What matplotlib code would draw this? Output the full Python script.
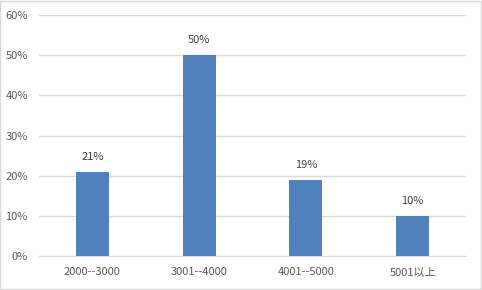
import matplotlib
matplotlib.use("Agg")
import matplotlib.pyplot as plt

plt.rcParams['font.family'] = ['Noto Sans CJK SC', 'DejaVu Sans']

categorias = ["2000--3000", "3001--4000", "4001--5000", "5001以上"]
valores = [21, 50, 19, 10]
etiquetas = ["21%", "50%", "19%", "10%"]
yticks = [0, 10, 20, 30, 40, 50, 60]

texto = "#595959"

fig = plt.figure(figsize=(4.82, 2.9), dpi=100)
ax = fig.add_axes([39 / 482, 34 / 290, 427 / 482, 241 / 290])

x = range(len(categorias))
barras = ax.bar(x, valores, width=0.31, color="#4f81bd", zorder=3)
for b, t in zip(barras, etiquetas):
    ax.annotate(t, (b.get_x() + b.get_width() / 2, b.get_height()),
                xytext=(0, 7), textcoords="offset points",
                ha="center", va="bottom", fontsize=8, color="#404040")

ax.set_xlim(-0.5, len(categorias) - 0.5)
ax.set_ylim(0, 60)
ax.set_yticks(yticks)
ax.set_yticklabels([f"{v}%" for v in yticks])
ax.set_xticks(list(x))
ax.set_xticklabels(categorias)
ax.tick_params(axis="both", length=0, labelsize=8, colors=texto)
ax.tick_params(axis="y", pad=8)
ax.tick_params(axis="x", pad=8)

ax.grid(axis="y", color="#d9d9d9", linewidth=1, zorder=0)
for s in ["top", "right", "left"]:
    ax.spines[s].set_visible(False)
ax.spines["bottom"].set_color("#d9d9d9")

# borde gris del gráfico
fig.patches.append(plt.Rectangle((0.001, 0.002), 0.997, 0.995, transform=fig.transFigure,
                                 fill=False, edgecolor="#d9d9d9", linewidth=1))

fig.savefig("out.png", dpi=100)
